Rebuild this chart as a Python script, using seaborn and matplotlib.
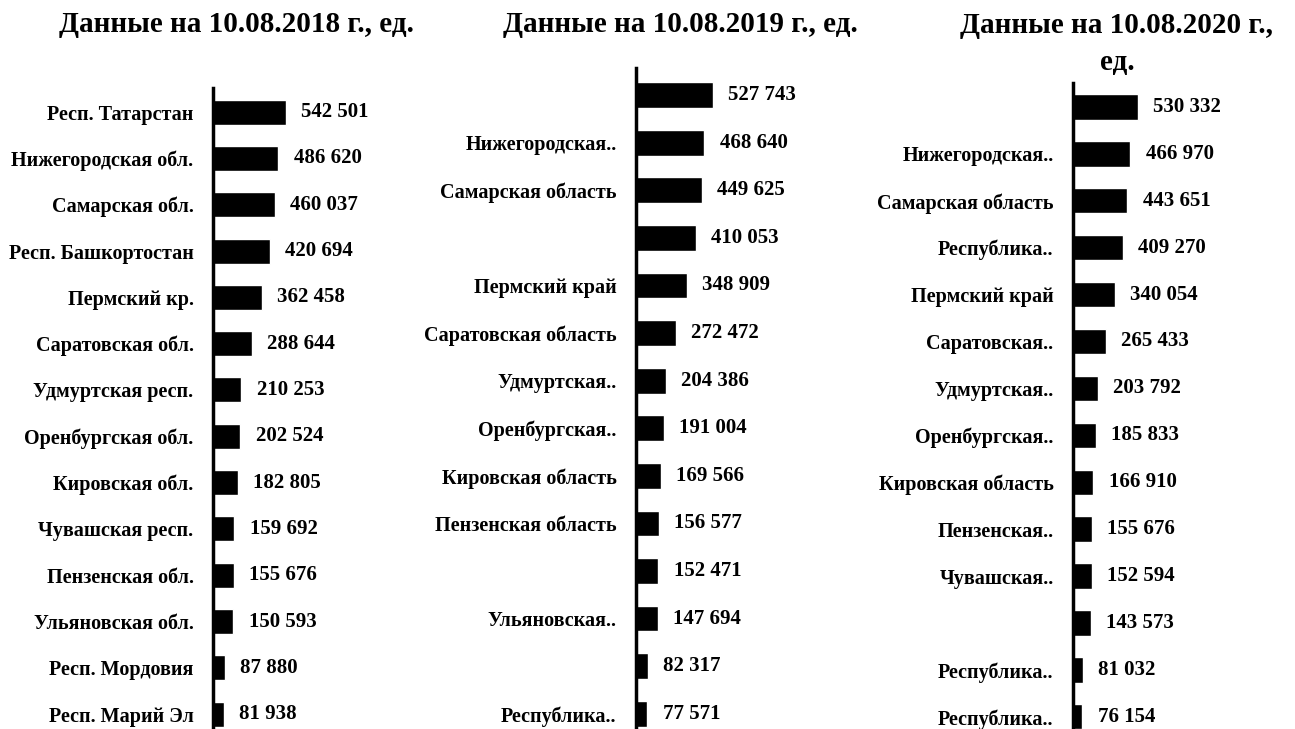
import numpy as np
import pandas as pd
import seaborn as sns
import matplotlib.pyplot as plt

# values
labels_2018 = ["Респ. Татарстан", "Нижегородская обл.", "Самарская обл.", "Респ. Башкортостан",
               "Пермский кр.", "Саратовская обл.", "Удмуртская респ.", "Оренбургская обл.",
               "Кировская обл.", "Чувашская респ.", "Пензенская обл.", "Ульяновская обл.",
               "Респ. Мордовия", "Респ. Марий Эл"]
values_2018 = [542501, 486620, 460037, 420694, 362458, 288644, 210253, 202524,
               182805, 159692, 155676, 150593, 87880, 81938]

labels_2019 = ["", "Нижегородская..", "Самарская область", "", "Пермский край",
               "Саратовская область", "Удмуртская..", "Оренбургская..", "Кировская область",
               "Пензенская область", "", "Ульяновская..", "", "Республика.."]
values_2019 = [527743, 468640, 449625, 410053, 348909, 272472, 204386, 191004,
               169566, 156577, 152471, 147694, 82317, 77571]

labels_2020 = ["", "Нижегородская..", "Самарская область", "Республика..", "Пермский край",
               "Саратовская..", "Удмуртская..", "Оренбургская..", "Кировская область",
               "Пензенская..", "Чувашская..", "", "Республика..", "Республика.."]
values_2020 = [530332, 466970, 443651, 409270, 340054, 265433, 203792, 185833,
               166910, 155676, 152594, 143573, 81032, 76154]

titles = ["Данные на 10.08.2018 г., ед.", "Данные на 10.08.2019 г., ед.",
          "Данные на 10.08.2020 г.,\nед."]

sns.set_style("white")
plt.rcParams["font.family"] = ["Liberation Serif", "DejaVu Serif"]
plt.rcParams["text.color"] = "black"
plt.rcParams["ytick.color"] = "black"

W, H = 1295, 729
fig = plt.figure(figsize=(W / 100, H / 100), dpi=100)

# (axis x px, axis top px, px per unit, ylim top pad, ylim bottom pad)
layout = [
    (213, 88, 73 / 542501, 0.52, 0.32),
    (636, 68, 77 / 527743, 0.57, 0.32),
    (1073, 83, 65 / 530332, 0.51, 0.26),
]
title_pos = [(236, 24), (680, 25), (1117, 44)]

for (labels, values), (x0, top, scale, pt, pb), title, (tx, ty) in zip(
        [(labels_2018, values_2018), (labels_2019, values_2019), (labels_2020, values_2020)],
        layout, titles, title_pos):
    width_px = 210
    ax = fig.add_axes([x0 / W, 0, width_px / W, (H - top) / H])
    df = pd.DataFrame({"pos": [str(i) for i in range(len(values))], "value": values})
    sns.barplot(data=df, x="value", y="pos", orient="h", color="black",
                width=0.54, saturation=1, ax=ax)
    ax.set_xlim(0, width_px / scale)
    ax.set_ylim(len(values) - 1 + pb, -pt)
    ax.set_yticks(range(len(values)))
    ax.set_yticklabels(labels, fontsize=14.5, fontweight="bold", color="black")
    ax.tick_params(axis="y", length=0, pad=14)
    ax.set_xticks([])
    ax.set_xlabel("")
    ax.set_ylabel("")
    for s in ["top", "right", "bottom"]:
        ax.spines[s].set_visible(False)
    ax.spines["left"].set_linewidth(2.5)
    ax.spines["left"].set_color("black")
    ax.bar_label(ax.containers[0],
                 labels=[f"{v:,}".replace(",", " ") for v in values],
                 padding=11, fontsize=15, fontweight="bold", color="black")
    fig.text(tx / W, 1 - ty / H, title, ha="center", va="center", color="black",
             fontsize=21, fontweight="bold", linespacing=1.45)

fig.savefig("out.png", dpi=100)
